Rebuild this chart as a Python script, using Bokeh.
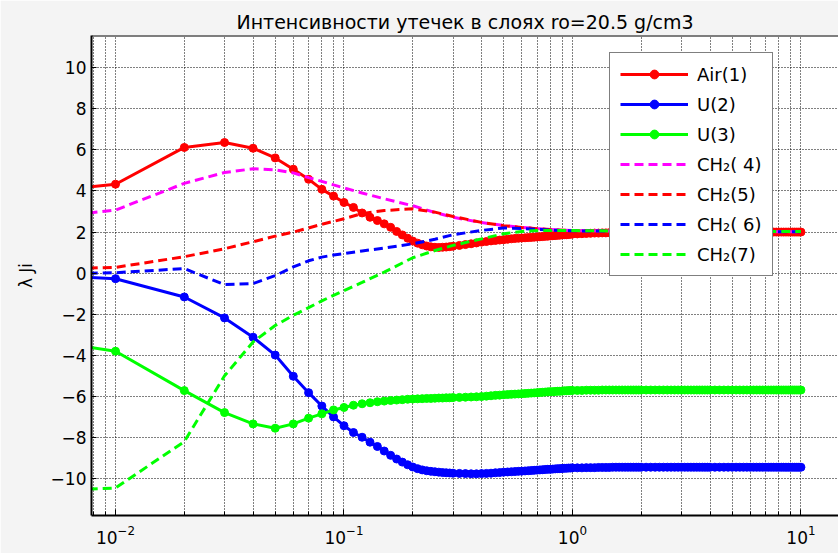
from bokeh.plotting import figure
from bokeh.models import Range1d, FixedTicker, Legend, LegendItem, Span
from bokeh.embed import file_html
from bokeh.resources import INLINE

TITLE = "Интенсивности утечек в слоях ro=20.5 g/cm3"
Y_LABEL = "λ Ji"

# x positions of the solid (marker) series
x_solid = [0.005, 0.01, 0.02, 0.03, 0.04, 0.05, 0.06, 0.07, 0.08, 0.09, 0.10,
           0.11, 0.12, 0.13, 0.14, 0.15, 0.16, 0.17, 0.18, 0.19, 0.20,
           0.21, 0.22, 0.23, 0.24, 0.25, 0.26, 0.27, 0.28, 0.29, 0.30,
           0.32, 0.34, 0.36, 0.38, 0.40, 0.42, 0.44, 0.46, 0.48, 0.50,
           0.52, 0.54, 0.56, 0.58, 0.60, 0.62, 0.64, 0.66, 0.68, 0.70,
           0.72, 0.74, 0.76, 0.78, 0.80, 0.82, 0.84, 0.86, 0.88, 0.90,
           0.92, 0.94, 0.96, 0.98, 1.00,
           1.05, 1.10, 1.15, 1.20, 1.25, 1.30, 1.35, 1.40, 1.45, 1.50,
           1.55, 1.60, 1.65, 1.70, 1.75, 1.80, 1.85, 1.90, 1.95, 2.00,
           2.1, 2.2, 2.3, 2.4, 2.5, 2.6, 2.7, 2.8, 2.9, 3.0,
           3.1, 3.2, 3.3, 3.4, 3.5, 3.6, 3.7, 3.8, 3.9, 4.0,
           4.2, 4.4, 4.6, 4.8, 5.0, 5.2, 5.4, 5.6, 5.8, 6.0,
           6.2, 6.4, 6.6, 6.8, 7.0, 7.2, 7.4, 7.6, 7.8, 8.0,
           8.2, 8.4, 8.6, 8.8, 9.0, 9.2, 9.4, 9.6, 9.8, 10.0]

air1 = [3.99, 4.33, 6.12, 6.36, 6.08, 5.61, 5.06, 4.57, 4.08, 3.75, 3.44,
        3.20, 2.93, 2.72, 2.56, 2.40, 2.23, 2.03, 1.86, 1.70, 1.56,
        1.46, 1.38, 1.32, 1.28, 1.26, 1.25, 1.26, 1.27, 1.29, 1.31,
        1.35, 1.39, 1.43, 1.47, 1.51, 1.54, 1.57, 1.59, 1.61, 1.63,
        1.65, 1.67, 1.69, 1.70, 1.71, 1.72, 1.73, 1.74, 1.75, 1.76,
        1.77, 1.78, 1.79, 1.80, 1.81, 1.82, 1.83, 1.84, 1.85, 1.86,
        1.87, 1.87, 1.88, 1.89, 1.90,
        1.91, 1.92, 1.93, 1.94, 1.95, 1.95, 1.96, 1.96, 1.97, 1.97,
        1.97, 1.98, 1.98, 1.98, 1.98, 1.99, 1.99, 1.99, 1.99, 2.00,
        2.00, 2.00, 2.00, 2.00, 2.00, 2.00, 2.00, 2.00, 2.00, 2.00,
        2.00, 2.00, 2.00, 2.00, 2.00, 2.00, 2.00, 2.00, 2.00, 2.00,
        2.00, 2.00, 2.00, 2.00, 2.00, 2.00, 2.00, 2.00, 2.00, 2.00,
        2.00, 2.00, 2.00, 2.00, 2.00, 2.00, 2.00, 2.00, 2.00, 2.00,
        2.00, 2.00, 2.00, 2.00, 2.00, 2.00, 2.00, 2.00, 2.00, 2.00]

u2 = [-0.12, -0.27, -1.16, -2.18, -3.12, -3.99, -5.02, -5.82, -6.47, -7.00, -7.43,
      -7.76, -7.99, -8.23, -8.44, -8.66, -8.87, -9.05, -9.20, -9.33, -9.44,
      -9.52, -9.58, -9.62, -9.65, -9.67, -9.69, -9.71, -9.72, -9.73, -9.74,
      -9.75, -9.76, -9.77, -9.77, -9.76, -9.75, -9.74, -9.72, -9.71, -9.69,
      -9.68, -9.67, -9.66, -9.65, -9.64, -9.63, -9.62, -9.61, -9.60, -9.59,
      -9.58, -9.57, -9.56, -9.55, -9.55, -9.54, -9.53, -9.52, -9.52, -9.51,
      -9.50, -9.50, -9.49, -9.49, -9.48,
      -9.48, -9.48, -9.47, -9.47, -9.47, -9.46, -9.46, -9.46, -9.46, -9.45,
      -9.45, -9.45, -9.45, -9.45, -9.45, -9.45, -9.45, -9.45, -9.45, -9.45,
      -9.45, -9.45, -9.45, -9.45, -9.45, -9.45, -9.45, -9.45, -9.45, -9.45,
      -9.45, -9.45, -9.45, -9.45, -9.45, -9.45, -9.45, -9.45, -9.45, -9.45,
      -9.45, -9.45, -9.45, -9.45, -9.45, -9.45, -9.45, -9.45, -9.45, -9.45,
      -9.45, -9.45, -9.45, -9.45, -9.45, -9.45, -9.45, -9.45, -9.45, -9.45,
      -9.45, -9.45, -9.45, -9.45, -9.45, -9.45, -9.45, -9.45, -9.45, -9.45]

u3 = [-3.31, -3.80, -5.72, -6.79, -7.34, -7.55, -7.34, -7.06, -6.85, -6.66, -6.54,
      -6.43, -6.36, -6.31, -6.26, -6.23, -6.20, -6.18, -6.16, -6.14, -6.13,
      -6.12, -6.11, -6.10, -6.10, -6.09, -6.08, -6.08, -6.07, -6.07, -6.06,
      -6.05, -6.04, -6.03, -6.02, -6.01, -5.99, -5.97, -5.95, -5.94, -5.92,
      -5.91, -5.90, -5.89, -5.88, -5.87, -5.86, -5.85, -5.84, -5.83, -5.82,
      -5.81, -5.80, -5.79, -5.78, -5.77, -5.77, -5.76, -5.75, -5.75, -5.74,
      -5.73, -5.73, -5.72, -5.72, -5.71,
      -5.71, -5.71, -5.70, -5.70, -5.70, -5.70, -5.69, -5.69, -5.69, -5.69,
      -5.69, -5.69, -5.69, -5.69, -5.69, -5.69, -5.69, -5.69, -5.69, -5.69,
      -5.69, -5.69, -5.69, -5.69, -5.69, -5.69, -5.69, -5.69, -5.69, -5.69,
      -5.69, -5.69, -5.69, -5.69, -5.69, -5.69, -5.69, -5.69, -5.69, -5.69,
      -5.69, -5.69, -5.69, -5.69, -5.69, -5.69, -5.69, -5.69, -5.69, -5.69,
      -5.69, -5.69, -5.69, -5.69, -5.69, -5.69, -5.69, -5.69, -5.69, -5.69,
      -5.69, -5.69, -5.69, -5.69, -5.69, -5.69, -5.69, -5.69, -5.69, -5.69]

# x positions of the dashed series
x_dash = [0.005, 0.01, 0.02, 0.03, 0.04, 0.05, 0.06, 0.07, 0.08, 0.09, 0.10,
          0.12, 0.15, 0.20, 0.25, 0.30, 0.40, 0.50, 0.60, 0.70, 0.80, 1.0,
          2.0, 5.0, 10.0]
ch2_4 = [2.70, 3.07, 4.37, 4.90, 5.08, 5.03, 4.88, 4.65, 4.47, 4.30, 4.15,
         3.90, 3.62, 3.28, 2.95, 2.72, 2.46, 2.32, 2.23, 2.17, 2.12, 2.07,
         2.03, 2.02, 2.02]
ch2_5 = [0.19, 0.28, 0.80, 1.19, 1.53, 1.80, 2.00, 2.20, 2.38, 2.52, 2.65,
         2.90, 3.05, 3.13, 2.97, 2.76, 2.47, 2.31, 2.22, 2.16, 2.12, 2.07,
         2.03, 2.02, 2.02]
ch2_6 = [-0.04, 0.02, 0.22, -0.56, -0.51, -0.12, 0.30, 0.60, 0.78, 0.88, 0.95,
         1.08, 1.22, 1.43, 1.65, 1.87, 2.08, 2.20, 2.17, 2.13, 2.10, 2.06,
         2.03, 2.02, 2.02]
ch2_7 = [-10.60, -10.46, -8.20, -5.00, -3.35, -2.55, -2.05, -1.68, -1.35, -1.08, -0.85,
         -0.45, 0.05, 0.75, 1.10, 1.35, 1.67, 1.92, 2.03, 2.07, 2.08, 2.07,
         2.04, 2.03, 2.03]

solid_series = [("Air(1)", air1, "#ff0000"), ("U(2)", u2, "#0000ff"), ("U(3)", u3, "#00ff00")]
dash_series = [("CH\u2082( 4)", ch2_4, "#ff00ff"), ("CH\u2082(5)", ch2_5, "#ff0000"),
               ("CH\u2082( 6)", ch2_6, "#0000ff"), ("CH\u2082(7)", ch2_7, "#00ff00")]

x_major = [0.01, 0.1, 1.0, 10.0]
x_minor = [0.008, 0.009,
           0.02, 0.03, 0.04, 0.05, 0.06, 0.07, 0.08, 0.09,
           0.2, 0.3, 0.4, 0.5, 0.6, 0.7, 0.8, 0.9,
           2.0, 3.0, 4.0, 5.0, 6.0, 7.0, 8.0, 9.0]
y_major = [-10, -8, -6, -4, -2, 0, 2, 4, 6, 8, 10]
Y_TOP = 11.57
Y_BOTTOM = -11.8

FONT = "DejaVu Sans"

p = figure(width=838, height=553, x_axis_type="log", output_backend="svg",
           toolbar_location=None,
           x_range=Range1d(0.00785, 14.6), y_range=Range1d(Y_BOTTOM, Y_TOP),
           min_border_left=91, min_border_right=0, min_border_top=35,
           min_border_bottom=38)
p.background_fill_color = "white"
p.border_fill_color = "#f4f4f4"
p.outline_line_color = None

p.title.text = TITLE
p.title.align = "center"
p.title.text_font = FONT
p.title.text_font_size = "19px"
p.title.text_font_style = "normal"
p.title.text_color = "black"
p.title.standoff = 6

xt = FixedTicker(ticks=x_major, minor_ticks=x_minor)
yt = FixedTicker(ticks=y_major, minor_ticks=[])

xa = p.xaxis[0]
xa.ticker = xt
xa.major_tick_in = 6
xa.major_tick_out = 0
xa.minor_tick_in = 4
xa.minor_tick_out = 0
xa.axis_line_width = 2
xa.axis_line_color = "black"
xa.major_tick_line_color = "black"
xa.minor_tick_line_color = "black"
xa.major_label_text_font = FONT
xa.major_label_text_font_size = "17px"
xa.major_label_text_color = "black"
xa.major_label_standoff = 9

ya = p.yaxis[0]
ya.ticker = yt
ya.major_tick_in = 5
ya.major_tick_out = 0
ya.minor_tick_line_color = None
ya.axis_line_width = 2
ya.axis_line_color = "black"
ya.major_tick_line_color = "black"
ya.major_label_text_font = FONT
ya.major_label_text_font_size = "17px"
ya.major_label_text_color = "black"
ya.major_label_standoff = 5
ya.axis_label = Y_LABEL
ya.axis_label_text_font = FONT
ya.axis_label_text_font_size = "17px"
ya.axis_label_text_font_style = "normal"
ya.axis_label_text_color = "black"
ya.axis_label_standoff = 12

p.add_layout(Span(location=Y_TOP, dimension="width", line_color="black", line_width=2))

for g in (p.xgrid[0], p.ygrid[0]):
    g.grid_line_color = "black"
    g.grid_line_dash = "1 2"
    g.grid_line_width = 1
    g.grid_line_alpha = 1.0
p.xgrid[0].ticker = xt
p.ygrid[0].ticker = yt
p.xgrid[0].minor_grid_line_color = "black"
p.xgrid[0].minor_grid_line_dash = "1 2"
p.xgrid[0].minor_grid_line_alpha = 1.0

items = []
for label, ys, color in solid_series:
    lr = p.line(x_solid, ys, line_color=color, line_width=3)
    sr = p.scatter(x_solid, ys, marker="circle", size=8, fill_color=color, line_color=color)
    items.append(LegendItem(label=label, renderers=[lr, sr]))
for label, ys, color in dash_series:
    lr = p.line(x_dash, ys, line_color=color, line_width=3, line_dash="9 5")
    items.append(LegendItem(label=label, renderers=[lr]))

legend = Legend(items=items, location=(518, 239), border_line_color="black",
                border_line_width=1.5, background_fill_color="white",
                background_fill_alpha=1.0, label_text_font=FONT,
                label_text_font_size="18px", label_text_color="black",
                glyph_width=68, glyph_height=22,
                label_height=22, label_standoff=9, spacing=8, padding=10, margin=0)
p.add_layout(legend, "center")

open("out.html", "w").write(file_html(p, INLINE))
